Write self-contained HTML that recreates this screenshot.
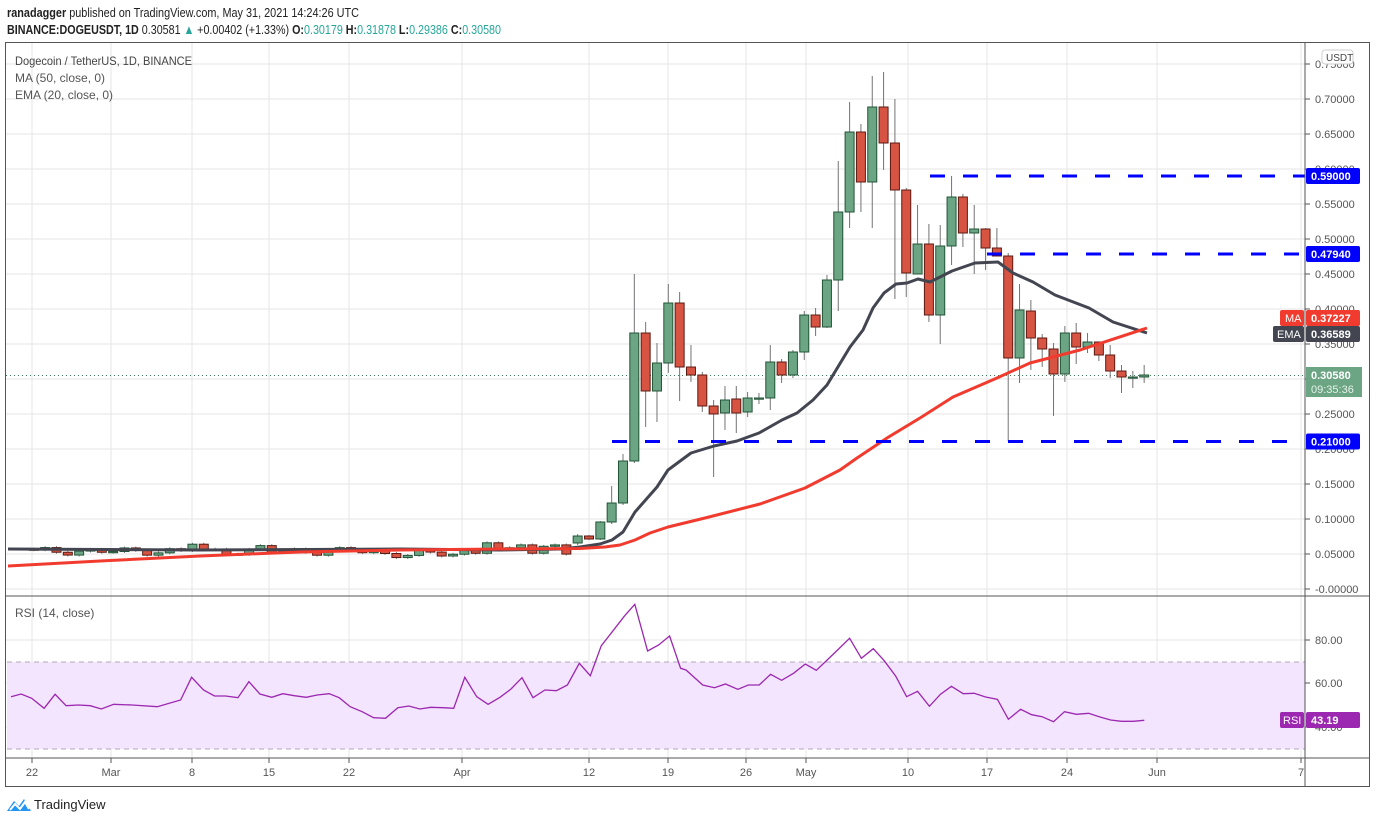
<!DOCTYPE html>
<html><head><meta charset="utf-8">
<style>
body{margin:0;background:#fff;width:1376px;height:823px;overflow:hidden;font-family:"Liberation Sans",sans-serif;}
svg{position:absolute;left:0;top:0}
</style></head><body>
<svg id="s" width="1376" height="823" xmlns="http://www.w3.org/2000/svg" font-family="Liberation Sans, sans-serif">
<text x="7" y="17" font-size="13" fill="#222" textLength="352" lengthAdjust="spacingAndGlyphs"><tspan font-weight="bold">ranadagger</tspan> published on TradingView.com, May 31, 2021 14:24:26 UTC</text>
<text x="7" y="34" font-size="13" fill="#222" textLength="494" lengthAdjust="spacingAndGlyphs"><tspan font-weight="bold">BINANCE:DOGEUSDT, 1D</tspan> 0.30581 <tspan fill="#26a69a">▲</tspan> +0.00402 (+1.33%) <tspan font-weight="bold">O:</tspan><tspan fill="#26a69a">0.30179</tspan> <tspan font-weight="bold">H:</tspan><tspan fill="#26a69a">0.31878</tspan> <tspan font-weight="bold">L:</tspan><tspan fill="#26a69a">0.29386</tspan> <tspan font-weight="bold">C:</tspan><tspan fill="#26a69a">0.30580</tspan></text>
<g id="grid"></g>
<rect x="7" y="662" width="1298" height="87" fill="#f3e5fd"/>
<line x1="7" y1="662" x2="1305" y2="662" stroke="#b0a8b8" stroke-dasharray="5,4"/>
<line x1="7" y1="749" x2="1305" y2="749" stroke="#b0a8b8" stroke-dasharray="5,4"/>
<g id="g2"></g>
<rect x="5.5" y="42.5" width="1364" height="744" fill="none" stroke="#555"/>
<line x1="5" y1="596" x2="1370" y2="596" stroke="#555"/>
<line x1="5" y1="758" x2="1370" y2="758" stroke="#555"/>
<line x1="1305" y1="42" x2="1305" y2="786" stroke="#555"/>
<text x="15" y="65" font-size="12" fill="#444" textLength="177" lengthAdjust="spacingAndGlyphs">Dogecoin / TetherUS, 1D, BINANCE</text>
<text x="15" y="82" font-size="12" fill="#555">MA (50, close, 0)</text>
<text x="15" y="99" font-size="12" fill="#555">EMA (20, close, 0)</text>
<text x="15" y="617" font-size="12" fill="#555">RSI (14, close)</text>
<g transform="translate(7,797)"><path d="M0 14 L7 4 L12 9 L17 2 L24 14 Z" fill="#2196f3"/><path d="M3 13 L8 7 L13 12 L18 5 L22 12" stroke="#fff" stroke-width="2" fill="none"/></g>
<text x="34" y="809" font-size="13" fill="#222">TradingView</text>
</svg>
<script>
const S=document.getElementById('s'),G=document.getElementById('grid'),G2=document.getElementById('g2');
const ns='http://www.w3.org/2000/svg';
function el(p,t,a,txt){const e=document.createElementNS(ns,t);for(const k in a)e.setAttribute(k,a[k]);if(txt!==undefined)e.textContent=txt;p.appendChild(e);return e;}
const X=d=>589+(d-49)*11.33;
const Y=p=>589-p*700;
for(let i=0;i<=15;i++){const y=Y(i*0.05);if(y<44)continue;el(G,'line',{x1:6,x2:1305,y1:y,y2:y,stroke:'#e6e6e6'});el(G,'line',{x1:1305,x2:1310,y1:y,y2:y,stroke:'#555'});
 el(G,'text',{x:1315,y:y+4,'font-size':11,fill:'#555'},(i==0?'-':'')+(i*0.05).toFixed(5));}
[640,683,727].forEach((y,i)=>{el(G,'line',{x1:6,x2:1305,y1:y,y2:y,stroke:'#e6e6e6'});el(G,'line',{x1:1305,x2:1310,y1:y,y2:y,stroke:'#555'});el(G,'text',{x:1315,y:y+4,'font-size':11,fill:'#555'},['80.00','60.00','40.00'][i]);});
const tl=[[32,'22'],[111,'Mar'],[192,'8'],[269,'15'],[349,'22'],[462,'Apr'],[589,'12'],[668,'19'],[746,'26'],[806,'May'],[908,'10'],[987,'17'],[1067,'24'],[1157,'Jun'],[1301,'7']];
tl.forEach(([x,t])=>{el(G,'line',{x1:x,x2:x,y1:43,y2:758,stroke:'#e6e6e6'});el(G,'line',{x1:x,x2:x,y1:758,y2:763,stroke:'#555'});el(G,'text',{x:x,y:776,'font-size':11,fill:'#555','text-anchor':'middle'},t);});
let c=0.057,data=[];
const bumps={14:0.064,20:0.062,40:0.066,43:0.063,45:0.061,46:0.063};
for(let d=0;d<48;d++){let o=c;let t=0.054+0.004*Math.sin(d*1.7)+0.002*Math.cos(d*0.9);if(bumps[d])t=bumps[d];if(d>30&&d<38)t-=0.004;let cl=t;let h=Math.max(o,cl)+0.002,l=Math.min(o,cl)-0.002;data.push([d,Y(o),Y(h),Y(l),Y(cl)]);c=cl;}
const late=[[48,543,534,545,536],[49,536,535,540,539],[50,539,521,540,522],[51,522,486,524,503],[52,503,454,505,461],[53,461,274,463,333],[54,333,322,427,391],[55,391,343,422,363],[56,363,284,373,303],[57,303,292,401,367],[58,367,345,382,375],[59,375,372,412,406],[60,406,400,477,414],[61,413,386,430,400],[62,399,386,433,413],[63,412,392,417,398],[64,398,393,404,398],[65,398,345,410,362],[66,362,359,383,375],[67,375,350,378,352],[68,352,311,360,315],[69,315,308,336,327],[70,327,275,328,280],[71,280,161,311,212],[72,212,102,228,132],[73,132,124,212,182],[74,182,76,228,107],[75,107,72,170,143],[76,143,99,299,190],[77,190,188,297,273],[78,274,205,274,244],[79,244,224,322,315],[80,315,225,344,246],[81,246,176,265,197],[82,197,194,247,233],[83,233,205,274,229],[84,229,228,270,248],[85,248,228,256,256],[86,256,253,441,358],[87,358,284,383,310],[88,311,300,370,338],[89,338,334,367,349],[90,349,343,416,374],[91,374,326,382,333],[92,333,323,364,347],[93,347,333,353,342],[94,342,342,361,355],[95,355,345,378,371],[96,371,365,393,377],[97,377,371,388,377],[98,377,365,383,375]];
data=data.concat(late);
el(G2,'line',{x1:6,x2:1305,y1:375.5,y2:375.5,stroke:'#3d7a5a','stroke-dasharray':'1,3'});
data.forEach(([d,o,h,l,cl])=>{const x=X(d);const up=cl<=o;
 el(G2,'line',{x1:x,x2:x,y1:h,y2:l,stroke:'#737375'});
 const top=Math.min(o,cl),ht=Math.max(Math.abs(o-cl),1.2);
 el(G2,'rect',{x:x-4.5,y:top,width:9,height:ht,fill:up?'#6ba583':'#d75442',stroke:up?'#225437':'#5b1a13','stroke-width':1});});
const ma=[[8,566],[100,561],[200,556],[300,552],[400,550],[500,549],[580,548.5],[605,547],[620,545],[635,540],[650,533],[668,527],[705,518],[760,504],[805,488],[840,470],[857,458],[887,438],[920,418],[953,397],[997,378],[1030,363],[1080,350],[1147,328]];
const ema=[[8,549],[200,550],[400,549],[500,550],[560,549],[580,547],[600,544],[612,540],[623,532],[635,512],[657,487],[668,470],[691,453],[714,446],[737,441],[759,433],[782,420],[797,413],[813,400],[827,385],[850,347],[863,330],[873,308],[884,293],[896,284],[907,283],[918,279],[930,282],[952,271],[975,263],[998,262],[1013,273],[1033,282],[1055,295],[1089,308],[1113,322],[1147,333]];
el(G2,'polyline',{points:ema.join(' '),fill:'none',stroke:'#434651','stroke-width':3,'stroke-linejoin':'round'});
el(G2,'polyline',{points:ma.join(' '),fill:'none',stroke:'#f23b2f','stroke-width':3,'stroke-linejoin':'round'});
[[930,176],[987,254],[612,441.5]].forEach(([x,y])=>el(G2,'line',{x1:x,x2:1305,y1:y,y2:y,stroke:'#0000ff','stroke-width':3,'stroke-dasharray':'15,18'}));
const r1=[[25,320],[48,312],[72,325],[100,355],[125,313],[150,347],[178,345],[205,347],[230,357],[258,343],[300,345],[357,350],[410,330],[435,262],[462,300],[487,318],[512,318],[540,323],[565,275],[590,312],[617,322],[642,311],[668,317],[695,322],[720,315],[747,311],[770,323],[795,350],[822,365],[848,383],[875,385],[903,353],[928,348],[953,357],[978,352],[1005,353],[1030,355],[1055,262],[1082,320],[1108,343],[1135,322],[1160,297],[1185,263],[1210,323],[1237,300],[1263,302],[1288,285],[1315,220],[1340,257],[1365,167],[1390,125],[1418,77],[1441,43],[1470,183],[1495,165],[1520,138],[1545,235]].map(([a,b])=>[a/2.27,590+b/3]);
const r2=[[0,240],[38,285],[65,293],[90,282],[118,298],[142,285],[167,285],[193,253],[218,271],[245,250],[272,222],[297,241],[322,210],[348,177],[373,145],[400,205],[427,176],[452,212],[478,258],[503,320],[528,304],[555,349],[580,313],[605,289],[632,311],[657,310],[683,321],[710,328],[735,388],[763,358],[788,374],[812,380],[838,395],[863,365],[890,373],[918,370],[942,380],[968,390],[993,394],[1020,394],[1045,391]].map(([a,b])=>[686+a/2.28,590+b/3]);
el(G2,'polyline',{points:r1.concat(r2).map(p=>p.map(v=>v.toFixed(1)).join(',')).join(' '),fill:'none',stroke:'#9c27b0','stroke-width':1.3});
function lab(y,txt,bg,h){el(G2,'rect',{x:1306,y:y-h/2,width:54,height:h,rx:2,fill:bg});el(G2,'text',{x:1311,y:y+4,'font-size':11,'font-weight':'bold',fill:'#fff'},txt);}
el(G2,'rect',{x:1322,y:50,width:31,height:14,rx:3,fill:'#fff',stroke:'#ccc'});el(G2,'text',{x:1326,y:61,'font-size':10,fill:'#444'},'USDT');
lab(176,'0.59000','#0000ff',16);lab(254,'0.47940','#0000ff',16);lab(441.5,'0.21000','#0000ff',16);
lab(318,'0.37227','#f23b2f',16);el(G2,'rect',{x:1280,y:310,width:24,height:16,rx:2,fill:'#f23b2f'});el(G2,'text',{x:1285,y:322,'font-size':11,fill:'#fff'},'MA');
lab(334,'0.36589','#434651',16);el(G2,'rect',{x:1273,y:326,width:31,height:16,rx:2,fill:'#434651'});el(G2,'text',{x:1277,y:338,'font-size':11,fill:'#fff'},'EMA');
el(G2,'rect',{x:1306,y:367,width:56,height:30,fill:'#6ba583'});el(G2,'text',{x:1311,y:379,'font-size':11,'font-weight':'bold',fill:'#fff'},'0.30580');el(G2,'text',{x:1311,y:393,'font-size':11,fill:'#e6f2ea'},'09:35:36');
lab(720,'43.19','#9c27b0',16);el(G2,'rect',{x:1280,y:712,width:24,height:16,rx:2,fill:'#9c27b0'});el(G2,'text',{x:1283,y:724,'font-size':11,fill:'#fff'},'RSI');
</script>
</body></html>
